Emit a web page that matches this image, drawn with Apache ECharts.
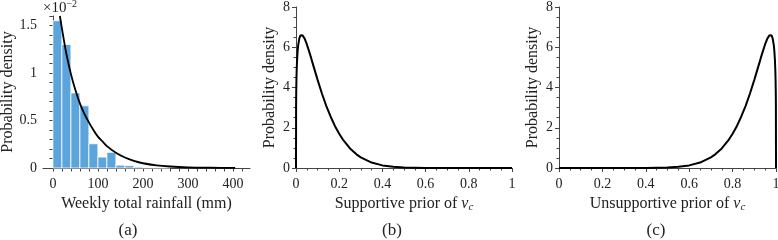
<!DOCTYPE html>
<html>
<head>
<meta charset="utf-8">
<script src="https://cdn.jsdelivr.net/npm/echarts@6/dist/echarts.min.js"></script>
<style>
  html, body { margin: 0; padding: 0; background: #fff; }
  #chart { width: 778px; height: 240px; }
</style>
</head>
<body>
<div id="chart"></div>
<script>
// (a) weekly rainfall histogram + fitted density, y in units of 1e-2
var binEdges = [0, 20, 40, 60, 80, 100, 120, 140, 160, 180, 200, 220, 240, 260]
var binHeights = [1.55, 1.30, 0.79, 0.655, 0.255, 0.115, 0.165, 0.03, 0.025, 0.01, 0.005, 0.004, 0.003]
var fitX = [15.5, 20, 25, 30, 40, 50, 60, 70, 80, 90, 100, 110, 120, 140, 160, 180, 200, 230, 260, 300, 350, 400, 405]
var fitY = [1.60, 1.47, 1.33, 1.20, 0.99, 0.82, 0.68, 0.57, 0.48, 0.40, 0.33, 0.28, 0.23, 0.16, 0.11, 0.075, 0.05, 0.028, 0.016, 0.007, 0.003, 0.001, 0.001]
var rainLabels = [0, 100, 200, 300, 400]
var rainTicks = [0, 20, 40, 60, 80, 100, 120, 140, 160, 180, 200, 220, 240, 260, 280, 300, 320, 340, 360, 380, 400, 420]
var densLabels = [0, 0.5, 1, 1.5]
var densTicks = [0, 0.1, 0.2, 0.3, 0.4, 0.5, 0.6, 0.7, 0.8, 0.9, 1, 1.1, 1.2, 1.3, 1.4, 1.5, 1.6]

// (b) supportive prior of v_c
var vcX = [0, 0.0005, 0.001, 0.002, 0.003, 0.005, 0.0075, 0.01, 0.015, 0.02, 0.025, 0.03, 0.04, 0.05, 0.06, 0.07, 0.08, 0.09, 0.1, 0.12, 0.14, 0.16, 0.18, 0.2, 0.22, 0.25, 0.28, 0.3, 0.35, 0.4, 0.45, 0.5, 0.6, 0.7, 0.8, 1]
var supportY = [0, 3.17, 3.73, 4.39, 4.82, 5.37, 5.80, 6.09, 6.42, 6.58, 6.62, 6.60, 6.43, 6.15, 5.82, 5.47, 5.10, 4.74, 4.38, 3.70, 3.09, 2.56, 2.09, 1.70, 1.37, 0.97, 0.68, 0.53, 0.27, 0.13, 0.06, 0.025, 0.003, 0.0003, 0, 0]

// (c) unsupportive prior of v_c
var unsupX = [0, 0.2, 0.3, 0.4, 0.5, 0.55, 0.6, 0.65, 0.7, 0.72, 0.75, 0.78, 0.8, 0.82, 0.84, 0.86, 0.88, 0.9, 0.91, 0.92, 0.93, 0.94, 0.95, 0.96, 0.97, 0.975, 0.98, 0.985, 0.99, 0.9925, 0.995, 0.997, 0.998, 0.999, 0.9995, 1]
var unsupY = [0, 0, 0.0003, 0.003, 0.025, 0.06, 0.13, 0.27, 0.53, 0.68, 0.97, 1.37, 1.70, 2.09, 2.56, 3.09, 3.70, 4.38, 4.74, 5.10, 5.47, 5.82, 6.15, 6.43, 6.60, 6.62, 6.58, 6.42, 6.09, 5.80, 5.37, 4.82, 4.39, 3.73, 3.17, 0]

var FONT = 'Liberation Serif'
var TEXT = '#222'
var LINE = '#444'

function pairs(xs, ys) {
  return xs.map(function(x, i) { return [x, ys[i]] })
}

var nameRich = {
  n: { fontFamily: FONT, fontSize: 16, color: TEXT },
  v: { fontFamily: FONT, fontSize: 16, fontStyle: 'italic', color: TEXT },
  c: { fontFamily: FONT, fontSize: 11, fontStyle: 'italic', color: TEXT, padding: [7, 0, 0, 0] }
}

function baseAxis(extra) {
  var ax = {
    type: 'value',
    axisLine: { show: true, lineStyle: { color: LINE, width: 1 } },
    axisTick: { show: true, inside: false, length: 4, lineStyle: { color: LINE } },
    minorTick: { show: true, splitNumber: 4, length: 2.5, lineStyle: { color: LINE } },
    splitLine: { show: false },
    axisLabel: { fontFamily: FONT, fontSize: 14, color: TEXT, margin: 9 },
    nameLocation: 'middle',
    nameTextStyle: { fontFamily: FONT, fontSize: 16, color: TEXT, rich: nameRich }
  }
  return Object.assign(ax, extra)
}

var chart = echarts.init(document.getElementById('chart'), null, { renderer: 'canvas' })

chart.setOption({
  animation: false,
  backgroundColor: '#fff',
  grid: [
    { left: 43, top: 16, width: 207, height: 152, containLabel: false, outerBoundsMode: 'none' },
    { left: 296, top: 7, width: 216, height: 161, containLabel: false, outerBoundsMode: 'none' },
    { left: 559, top: 7, width: 217, height: 161, containLabel: false, outerBoundsMode: 'none' }
  ],
  xAxis: [
    baseAxis({
      gridIndex: 0, min: -22, max: 438,
      axisTick: { show: true, length: 3.5, lineStyle: { color: LINE }, customValues: rainTicks },
      minorTick: { show: false },
      axisLabel: { fontFamily: FONT, fontSize: 14, color: TEXT, margin: 9, customValues: rainLabels },
      name: 'Weekly total rainfall (mm)', nameGap: 27
    }),
    baseAxis({
      gridIndex: 1, min: 0, max: 1, interval: 0.2,
      name: '{n|Supportive prior of }{v|v}{c|c}', nameGap: 27
    }),
    baseAxis({
      gridIndex: 2, min: 0, max: 1, interval: 0.2,
      name: '{n|Unsupportive prior of }{v|v}{c|c}', nameGap: 27
    })
  ],
  yAxis: [
    baseAxis({
      gridIndex: 0, min: 0, max: 1.6,
      axisTick: { show: true, length: 3.5, lineStyle: { color: LINE }, customValues: densTicks },
      minorTick: { show: false },
      axisLabel: { fontFamily: FONT, fontSize: 14, color: TEXT, margin: 6, customValues: densLabels },
      name: 'Probability density', nameGap: 27
    }),
    baseAxis({
      gridIndex: 1, min: 0, max: 8, interval: 2,
      axisLabel: { fontFamily: FONT, fontSize: 14, color: TEXT, margin: 6 },
      name: 'Probability density', nameGap: 18
    }),
    baseAxis({
      gridIndex: 2, min: 0, max: 8, interval: 2,
      axisLabel: { fontFamily: FONT, fontSize: 14, color: TEXT, margin: 6 },
      name: 'Probability density', nameGap: 18
    })
  ],
  series: [
    {
      type: 'custom',
      xAxisIndex: 0,
      yAxisIndex: 0,
      data: binHeights.map(function(h, i) { return [binEdges[i], binEdges[i + 1], h] }),
      renderItem: function(params, api) {
        var p0 = api.coord([api.value(0), api.value(2)])
        var p1 = api.coord([api.value(1), 0])
        return {
          type: 'rect',
          shape: { x: p0[0], y: p0[1], width: p1[0] - p0[0], height: p1[1] - p0[1] },
          style: { fill: '#5ca4dc', stroke: '#fff', lineWidth: 0.8 }
        }
      }
    },
    {
      type: 'line',
      xAxisIndex: 0,
      yAxisIndex: 0,
      data: pairs(fitX, fitY),
      showSymbol: false,
      smooth: 0.3,
      lineStyle: { color: '#000', width: 1.8 }
    },
    {
      type: 'line',
      xAxisIndex: 1,
      yAxisIndex: 1,
      data: pairs(vcX, supportY),
      showSymbol: false,
      lineStyle: { color: '#000', width: 2 }
    },
    {
      type: 'line',
      xAxisIndex: 2,
      yAxisIndex: 2,
      data: pairs(unsupX, unsupY),
      showSymbol: false,
      clip: false,
      lineStyle: { color: '#000', width: 2 }
    }
  ],
  graphic: [
    {
      type: 'text', left: 43, top: -1,
      style: {
        text: '{a|×10}{b|−2}',
        rich: {
          a: { fontFamily: FONT, fontSize: 15, fill: TEXT },
          b: { fontFamily: FONT, fontSize: 10, fill: TEXT, padding: [0, 0, 8, 0] }
        }
      }
    },
    { type: 'text', x: 128, y: 231, style: { text: '(a)', font: '17px ' + FONT, fill: TEXT, textAlign: 'center', textVerticalAlign: 'middle' } },
    { type: 'text', x: 392, y: 231, style: { text: '(b)', font: '17px ' + FONT, fill: TEXT, textAlign: 'center', textVerticalAlign: 'middle' } },
    { type: 'text', x: 656, y: 231, style: { text: '(c)', font: '17px ' + FONT, fill: TEXT, textAlign: 'center', textVerticalAlign: 'middle' } }
  ]
})
</script>
</body>
</html>
